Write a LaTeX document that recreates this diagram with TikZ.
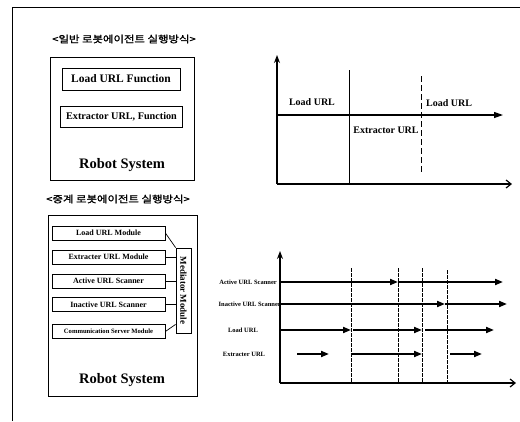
\documentclass[tikz,border=0pt]{standalone}
\usepackage{fontspec}
\setmainfont{Liberation Serif}
\newfontfamily\kr[FakeStretch=1.2,FakeBold=1.5]{Noto Sans CJK KR}
\usetikzlibrary{arrows.meta,calc}
\begin{document}
\begin{tikzpicture}[x=1pt,y=-1pt,
  box/.style={draw, line width=0.8pt, inner sep=0pt},
  ttl/.style={font=\kr\fontsize{9.5}{11}\selectfont},
  big/.style={font=\fontsize{14.5}{16}\selectfont\bfseries},
  fn/.style={box, font=\fontsize{11.5}{13}\selectfont\bfseries},
  md/.style={box, minimum width=113, minimum height=14, font=\fontsize{8}{9}\selectfont\bfseries},
  lbl/.style={font=\fontsize{10}{12}\selectfont\bfseries, inner sep=1pt},
  sl/.style={font=\fontsize{6.5}{7}\selectfont\bfseries, inner sep=1pt},
  axis/.style={line width=1.2pt},
  flow/.style={line width=1.8pt, -{Triangle[length=8pt,width=6pt]}},
  vline/.style={line width=0.5pt, dash pattern=on 4pt off 1pt},
  conn/.style={line width=0.7pt}]
\useasboundingbox (0,0) rectangle (520,421);
% outer frame
\coordinate (fb) at (12,421);
\coordinate (fc) at (12,7);
\coordinate (fr) at (520,7);
\draw[line width=0.9pt] (fb) -- (fc) -- (fr);

% ---------- top left ----------
\node[ttl] (t1) at (124,39) {<일반 로봇에이전트 실행방식>};
\node[box, minimum width=144, minimum height=123] (rs1) at (122,118.5) {};
\node[fn, minimum width=118, minimum height=22] (lf) at (121,79) {Load URL Function};
\node[fn, minimum width=122, minimum height=21, font=\fontsize{10.2}{12}\selectfont\bfseries] (ef) at (121.5,116.5) {Extractor URL, Function};
\node[big] (rsl1) at (122,165) {Robot System};

% ---------- top right chart ----------
\coordinate (O1) at (277,184);
\coordinate (Y1) at (277,55);
\coordinate (X1) at (512,184);
\coordinate (M1) at (277,115);
\coordinate (M1e) at (503,115);
\draw[axis, -{Stealth[length=8pt,width=6pt]}] (O1) -- (Y1);
\draw[axis, -{Straight Barb[length=5pt,width=8pt]}] (O1) -- (X1);
\draw[axis, -{Triangle[length=9pt,width=6pt]}] (M1) -- (M1e);
\coordinate (s1) at (349,70);
\draw[line width=0.8pt] (s1) -- (s1 |- O1);
\coordinate (d1) at (421,76);
\coordinate (d1b) at (421,174);
\draw[line width=0.5pt, dash pattern=on 6pt off 3pt] (d1) -- (d1b);
\node[lbl] (l1) at (312,102) {Load URL};
\node[lbl] (l2) at (449,103) {Load URL};
\node[lbl] (e1) at (386,130) {Extractor URL};

% ---------- bottom left ----------
\node[ttl] (t2) at (118,199) {<중계 로봇에이전트 실행방식>};
\node[box, minimum width=149, minimum height=181] (rs2) at (122.5,305.5) {};
\node[md] (lm) at (108.5,233) {Load URL Module};
\node[md] (em) at (108.5,257) {Extracter URL Module};
\node[md] (am) at (108.5,281) {Active URL Scanner};
\node[md] (im) at (108.5,304.5) {Inactive URL Scanner};
\node[md, font=\fontsize{6.6}{8}\selectfont\bfseries] (cm) at (108.5,331.5) {Communication Server Module};
\node[box, minimum width=15, minimum height=85] (med) at (183.5,290.5) {};
\node[rotate=-90, font=\fontsize{9}{10}\selectfont\bfseries, inner sep=0pt] (medl) at (med.center) {Mediator Module};
\draw[conn] (lm.east) -- (med.north west);
\draw[conn] (em.east) -- (em.east -| med.west);
\draw[conn] (am.east) -- (am.east -| med.west);
\draw[conn] (im.east) -- (im.east -| med.west);
\draw[conn] (cm.east) -- ($(med.south west)+(0,-9)$);
\node[big] (rsl2) at (122,380) {Robot System};

% ---------- bottom right chart ----------
\coordinate (O2) at (280,383);
\coordinate (Y2) at (280,251);
\coordinate (X2) at (516,383);
\draw[axis, -{Stealth[length=8pt,width=6pt]}] (O2) -- (Y2);
\draw[axis, -{Straight Barb[length=5pt,width=8pt]}] (O2) -- (X2);
\coordinate (v1) at (351,268);
\coordinate (v2) at (398,268);
\coordinate (v3) at (422,268);
\coordinate (v4) at (447,270);
\foreach \v in {v1,v2,v3,v4} \draw[vline] (\v) -- (\v |- O2);

\coordinate (rA) at (280,282);
\coordinate (rI) at (280,304);
\coordinate (rL) at (280,330);
\coordinate (rE) at (297,354);
\coordinate (eA) at (503,282);
\coordinate (eI) at (507,304);
\coordinate (eL) at (494,330);
\coordinate (aI) at (445,304);
\coordinate (aE1) at (329,354);
\coordinate (aE2) at (450,354);
\coordinate (aE3) at (482,354);

\node[sl, anchor=east] (la) at (278,282) {Active URL Scanner};
\node[sl, anchor=east] (li) at (282,304) {Inactive URL Scanner};
\node[sl] (ll) at (243,330) {Load URL};
\node[sl] (le) at (244,354) {Extracter URL};

\draw[flow] (rA) -- (rA -| v2);
\draw[flow] (rA -| v2) -- (eA);
\draw[flow] (rI) -- (aI);
\draw[flow] (aI) -- (eI);
\draw[flow] (rL) -- (rL -| v1);
\draw[flow] ($(rL -| v1)+(2,0)$) -- (rL -| v3);
\draw[flow] ($(rL -| v3)+(3,0)$) -- (eL);
\draw[flow] (rE) -- (aE1);
\draw[flow] (rE -| v1) -- (rE -| v3);
\draw[flow] (aE2) -- (aE3);
\end{tikzpicture}
\end{document}
